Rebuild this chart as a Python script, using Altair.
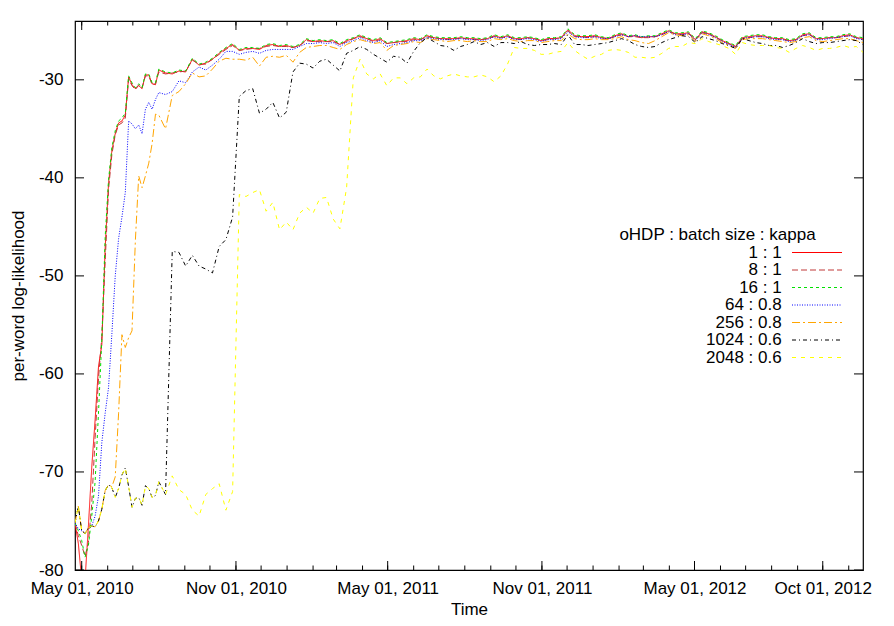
import altair as alt
import pandas as pd

START = "2010-04-23"

# day offsets from START
day = [0, 4, 8, 12, 16, 20, 24, 28, 32, 36, 40, 44, 48, 52, 56, 60, 64, 68, 72, 76, 80, 84, 88, 92, 96, 100,
       108, 116, 124, 132, 140, 148, 156, 164, 172, 180, 188, 196, 204,
       212, 220, 228, 236, 244, 252, 260, 268, 276, 284, 292, 300, 308,
       316, 324, 332, 340, 348, 356, 364, 372, 380, 388, 396, 404, 412,
       420, 428, 436, 444, 452, 460, 468, 476, 484, 492, 500, 508, 516,
       524, 532, 540, 548, 556, 564, 572, 580, 588, 596, 604, 612, 620,
       628, 636, 644, 652, 660, 668, 676, 684, 692, 700, 708, 716, 724,
       732, 740, 748, 756, 764, 772, 780, 788, 796, 804, 812, 820, 828,
       836, 844, 852, 860, 868, 876, 884, 892, 900, 908, 916, 924, 932, 940]

series_names = ["1 : 1", "8 : 1", "16 : 1", "64 : 0.8", "256 : 0.8", "1024 : 0.6", "2048 : 0.6"]

v_1 = [-75.2, -77.3, -81.0, -81.0, -75.5, -69.5, -64.7, -59.3, -57.0, -47.1, -40.6, -37.2, -35.5, -34.4, -34.2, -33.6, -29.7, -30.5, -30.9, -30.6, -30.9, -29.5, -29.5, -30.4, -30.5, -29.0,
       -29.3, -29.4, -29.1, -29.2, -27.9, -28.5, -28.3, -27.9, -27.3, -26.8, -26.4, -27.0, -26.8,
       -26.8, -26.9, -26.5, -26.4, -26.6, -26.5, -26.7, -26.5, -25.9, -26.1, -26.0, -26.1, -26.0,
       -26.4, -26.0, -25.8, -25.5, -25.8, -26.0, -25.8, -26.3, -26.2, -26.1, -26.0, -25.8, -25.9,
       -25.5, -25.7, -25.8, -25.8, -25.8, -25.7, -25.8, -25.8, -25.9, -25.8, -25.5, -25.7, -25.5,
       -25.8, -25.8, -25.7, -25.8, -26.0, -25.8, -25.8, -25.7, -24.9, -25.5, -25.6, -25.6, -25.5,
       -25.7, -25.8, -25.5, -25.3, -25.6, -25.5, -25.7, -25.6, -25.6, -25.3, -25.0, -25.3, -25.3,
       -25.2, -25.9, -25.1, -25.3, -25.6, -26.0, -26.3, -26.6, -25.7, -25.6, -25.5, -25.5, -25.7,
       -25.8, -25.8, -26.0, -25.9, -25.4, -25.3, -25.8, -25.8, -25.7, -25.7, -25.5, -25.4, -25.7, -25.8]

v_8 = [-75.2, -76.5, -77.5, -78.6, -77.2, -73.2, -66.5, -60.5, -56.2, -48.5, -41.2, -37.6, -35.6, -34.6, -34.4, -33.9, -29.9, -30.6, -31.0, -30.5, -30.8, -29.6, -29.6, -30.5, -30.4, -29.2,
       -29.4, -29.3, -29.2, -29.1, -28.0, -28.4, -28.4, -27.9, -27.4, -26.9, -26.5, -27.0, -26.9,
       -26.8, -26.8, -26.6, -26.5, -26.6, -26.6, -26.7, -26.5, -26.0, -26.1, -26.1, -26.1, -26.1,
       -26.4, -26.1, -25.8, -25.6, -25.8, -26.1, -25.9, -26.3, -26.2, -26.1, -26.1, -25.9, -25.9,
       -25.6, -25.7, -25.8, -25.9, -25.8, -25.8, -25.8, -25.9, -25.9, -25.8, -25.6, -25.7, -25.6,
       -25.8, -25.9, -25.7, -25.8, -26.0, -25.9, -25.8, -25.7, -25.0, -25.6, -25.6, -25.7, -25.6,
       -25.7, -25.8, -25.6, -25.4, -25.6, -25.6, -25.7, -25.7, -25.6, -25.4, -25.1, -25.3, -25.4,
       -25.3, -25.9, -25.2, -25.3, -25.7, -26.0, -26.3, -26.6, -25.8, -25.7, -25.6, -25.6, -25.7,
       -25.8, -25.9, -26.0, -25.9, -25.5, -25.4, -25.8, -25.8, -25.7, -25.7, -25.6, -25.5, -25.7, -25.9]

v_16 = [-75.2, -76.0, -77.0, -78.7, -77.5, -74.5, -71.0, -64.0, -56.5, -46.0, -40.2, -36.9, -35.2, -34.2, -33.9, -33.4, -29.6, -30.3, -30.8, -30.4, -30.8, -29.4, -29.4, -30.3, -30.3, -28.9,
        -29.2, -29.3, -29.0, -29.1, -27.8, -28.4, -28.2, -27.8, -27.2, -26.7, -26.3, -26.9, -26.7,
        -26.7, -26.8, -26.4, -26.3, -26.5, -26.4, -26.6, -26.4, -25.8, -26.0, -25.9, -26.0, -25.9,
        -26.3, -25.9, -25.7, -25.4, -25.7, -25.9, -25.7, -26.2, -26.1, -26.0, -25.9, -25.7, -25.8,
        -25.4, -25.6, -25.7, -25.7, -25.7, -25.6, -25.7, -25.7, -25.8, -25.7, -25.4, -25.6, -25.4,
        -25.7, -25.7, -25.6, -25.7, -25.9, -25.7, -25.7, -25.6, -24.8, -25.4, -25.5, -25.5, -25.4,
        -25.6, -25.7, -25.4, -25.2, -25.5, -25.4, -25.6, -25.5, -25.5, -25.2, -24.9, -25.2, -25.2,
        -25.1, -25.8, -25.0, -25.2, -25.5, -25.9, -26.2, -26.5, -25.6, -25.5, -25.4, -25.4, -25.6,
        -25.7, -25.7, -25.9, -25.8, -25.3, -25.2, -25.7, -25.7, -25.6, -25.6, -25.4, -25.3, -25.6, -25.7]

v_64 = [-75.2, -75.8, -76.0, -76.2, -75.8, -75.5, -74.5, -72.5, -67.0, -64.0, -61.4, -55.9, -50.0, -46.2, -44.0, -41.5, -34.2, -34.5, -35.0, -34.6, -35.5, -33.0, -32.3, -33.0, -32.0, -31.3,
        -31.5, -31.2, -30.1, -30.3, -29.2, -28.7, -29.0, -28.5, -27.9, -27.1, -27.1, -27.4, -27.2,
        -27.1, -27.3, -27.0, -26.9, -26.9, -26.9, -26.9, -26.6, -26.3, -26.3, -26.2, -26.3, -26.2,
        -26.6, -26.2, -26.0, -25.7, -26.0, -26.2, -26.0, -26.6, -26.4, -26.3, -26.2, -26.0, -26.0,
        -25.7, -25.8, -25.9, -25.9, -25.9, -25.8, -25.9, -25.9, -26.0, -25.9, -25.6, -25.8, -25.6,
        -25.9, -25.9, -25.8, -25.9, -26.1, -25.9, -25.9, -25.8, -25.1, -25.6, -25.7, -25.7, -25.6,
        -25.8, -25.8, -25.6, -25.4, -25.6, -25.5, -25.6, -25.6, -25.6, -25.4, -25.1, -25.4, -25.4,
        -25.3, -26.0, -25.2, -25.4, -25.7, -26.1, -26.4, -26.7, -25.8, -25.7, -25.6, -25.6, -25.8,
        -25.9, -25.9, -26.1, -26.0, -25.5, -25.4, -25.9, -25.9, -25.8, -25.7, -25.6, -25.5, -25.8, -25.9]

v_256 = [-75.2, -73.5, -76.0, -76.3, -75.7, -75.5, -75.6, -75.0, -73.8, -71.9, -71.3, -71.5, -70.5, -64.0, -56.0, -57.3, -56.3, -55.6, -46.4, -39.8, -41.0, -39.8, -38.5, -36.5, -33.5, -33.6,
         -35.0, -31.6, -31.2, -30.4, -29.3, -29.7, -29.6, -28.9, -28.1, -27.8, -27.9, -27.9, -28.0,
         -27.7, -28.6, -27.7, -27.6, -27.7, -27.5, -28.2, -27.2, -26.7, -26.6, -26.5, -26.5, -26.7,
         -26.9, -26.4, -26.1, -25.9, -26.1, -26.3, -26.2, -27.0, -26.5, -26.4, -26.3, -26.1, -26.2,
         -25.8, -25.9, -26.0, -26.1, -26.0, -26.0, -26.1, -26.0, -26.1, -26.1, -25.8, -25.9, -25.8,
         -26.0, -26.1, -26.0, -26.0, -26.2, -26.1, -26.0, -26.0, -25.3, -25.8, -25.9, -25.9, -25.8,
         -25.9, -25.9, -25.8, -25.6, -25.9, -26.0, -26.2, -26.3, -26.0, -25.6, -25.2, -25.4, -25.5,
         -25.4, -26.1, -25.3, -25.5, -25.8, -26.2, -26.5, -26.8, -25.9, -25.8, -25.8, -25.8, -25.9,
         -26.0, -26.1, -26.2, -26.1, -25.7, -25.6, -26.0, -26.1, -26.0, -25.9, -25.8, -25.8, -26.0, -26.2]

v_1024 = [-75.2, -73.5, -76.0, -76.3, -75.7, -75.5, -75.6, -75.0, -73.8, -71.9, -71.3, -71.6, -72.6, -71.7, -70.3, -69.6, -71.5, -73.6, -72.7, -72.6, -73.4, -71.4, -71.7, -72.6, -72.4, -71.0,
          -72.3, -47.5, -47.6, -49.0, -47.9, -49.0, -49.3, -49.7, -47.0, -46.3, -44.0, -31.7, -31.1,
          -30.9, -33.4, -33.0, -32.3, -33.9, -33.3, -29.2, -28.3, -28.4, -28.8, -28.1, -27.9, -28.5,
          -29.1, -27.3, -27.0, -26.6, -26.9, -27.4, -27.8, -28.2, -27.6, -27.7, -28.3, -27.1, -26.2,
          -25.7, -26.1, -26.5, -26.6, -27.0, -26.6, -26.4, -26.1, -26.4, -26.2, -26.6, -26.2, -26.2,
          -26.3, -26.1, -26.4, -26.5, -26.4, -26.4, -26.3, -26.4, -25.4, -26.4, -26.4, -26.5, -26.4,
          -26.3, -26.2, -26.0, -25.8, -26.0, -26.4, -26.6, -26.7, -26.6, -26.2, -25.9, -25.7, -25.5,
          -25.6, -26.2, -25.6, -25.8, -26.0, -26.3, -26.5, -26.8, -25.8, -26.0, -26.2, -26.3, -26.5,
          -26.5, -26.7, -26.5, -26.2, -25.8, -26.1, -26.3, -26.2, -26.2, -26.1, -26.0, -25.9, -26.0, -26.4]

v_2048 = [-75.2, -73.5, -76.0, -76.3, -75.7, -75.5, -75.6, -75.0, -73.8, -71.9, -71.3, -71.6, -72.6, -71.7, -70.3, -69.6, -71.5, -73.6, -72.7, -72.6, -73.4, -71.4, -71.7, -72.6, -72.4, -71.0,
          -72.3, -70.4, -71.8, -72.3, -73.9, -74.5, -72.3, -71.7, -71.2, -73.9, -72.0, -41.7, -41.9,
          -41.5, -41.2, -43.4, -42.5, -45.3, -44.5, -45.3, -43.6, -43.0, -43.6, -42.1, -42.0, -44.2,
          -45.2, -41.0, -29.8, -27.9, -29.4, -29.9, -29.4, -30.6, -29.8, -29.8, -30.4, -29.8, -29.7,
          -28.9, -29.6, -29.9, -29.6, -29.4, -29.6, -29.7, -29.7, -29.5, -29.7, -30.2, -29.6, -28.4,
          -26.7, -26.8, -26.8, -27.0, -27.4, -27.4, -27.2, -27.1, -26.2, -27.0, -27.5, -27.9, -27.6,
          -27.4, -27.0, -26.9, -27.0, -27.2, -27.7, -27.7, -27.8, -27.7, -27.3, -26.8, -26.6, -26.6,
          -26.2, -26.3, -25.8, -26.1, -26.3, -26.5, -26.8, -27.4, -26.2, -26.4, -26.5, -26.5, -26.5,
          -26.7, -26.8, -27.2, -26.8, -26.5, -26.7, -27.0, -26.8, -26.8, -26.7, -26.5, -26.7, -26.6, -27.2]

series_values = [v_1, v_8, v_16, v_64, v_256, v_1024, v_2048]
series_colors = ["#ff0000", "#c03838", "#00e000", "#0000ff", "#ffa500", "#000000", "#ffff00"]
series_dashes = [[1, 0], [6, 3], [3, 3], [1, 1.5], [8, 3, 2, 3], [4, 3, 1, 3], [4, 5]]

major_ticks = ["2010-05-01", "2010-11-01", "2011-05-01", "2011-11-01", "2012-05-01", "2012-10-01"]
minor_ticks = ["2010-05-01", "2010-06-01", "2010-07-01", "2010-08-01", "2010-09-01", "2010-10-01",
               "2010-11-01", "2010-12-01", "2011-01-01", "2011-02-01", "2011-03-01", "2011-04-01",
               "2011-05-01", "2011-06-01", "2011-07-01", "2011-08-01", "2011-09-01", "2011-10-01",
               "2011-11-01", "2011-12-01", "2012-01-01", "2012-02-01", "2012-03-01", "2012-04-01",
               "2012-05-01", "2012-06-01", "2012-07-01", "2012-08-01", "2012-09-01", "2012-10-01",
               "2012-11-01"]
y_ticks = [-80, -70, -60, -50, -40, -30]

legend_title = "oHDP : batch size : kappa"

for vals in series_values:
    assert len(vals) == len(day), len(vals)

FONT = "Liberation Sans"
FS = 17
W, H = 788, 549

start = pd.Timestamp(START)
rows = []
for name, vals in zip(series_names, series_values):
    for d, v in zip(day, vals):
        rows.append({"date": start + pd.Timedelta(days=d), "value": v, "series": name})
df = pd.DataFrame(rows)

x_scale = alt.Scale(domain=[alt.DateTime(year=2010, month=4, date=23),
                            alt.DateTime(year=2012, month=11, date=18)])
y_scale = alt.Scale(domain=[-80, -24], nice=False, zero=False)

x_axis = alt.Axis(
    values=[alt.DateTime(year=int(s[:4]), month=int(s[5:7]), date=int(s[8:])) for s in major_ticks],
    format="%b %d, %Y", ticks=False, tickSize=0, domain=False, grid=False,
    labelFont=FONT, labelFontSize=FS, labelColor="black", labelPadding=10,
    labelOverlap=False, labelFlush=False,
    title="Time", titleFont=FONT, titleFontSize=FS, titleFontWeight="normal", titleColor="black",
    titleX=W / 2, titleY=39, titleAlign="center", titleBaseline="middle")
y_axis = alt.Axis(
    values=y_ticks, labelExpr="'' + datum.value", ticks=False, tickSize=0, domain=False, grid=False,
    labelFont=FONT, labelFontSize=FS, labelColor="black", labelPadding=12,
    title="per-word log-likelihood", titleFont=FONT, titleFontSize=FS, titleFontWeight="normal",
    titleColor="black", titleX=-57, titleY=H / 2, titleAlign="center", titleBaseline="middle")


def X(field):
    return alt.X(field, scale=x_scale, axis=x_axis)


def Y(field):
    return alt.Y(field, scale=y_scale, axis=y_axis)


layers = []
for name, col, dash in zip(series_names, series_colors, series_dashes):
    layers.append(
        alt.Chart(df[df["series"] == name]).mark_line(
            clip=True, color=col, strokeWidth=1, strokeDash=dash
        ).encode(x=X("date:T"), y=Y("value:Q"), order=alt.Order("date:T"))
    )

maj = pd.DataFrame({"date": pd.to_datetime(major_ticks)})
mnr = pd.DataFrame({"date": pd.to_datetime(minor_ticks)})
ytk = pd.DataFrame({"value": y_ticks})


def xticks(data, length):
    out = []
    for y0, y1 in [(H, H - length), (0, length)]:
        out.append(alt.Chart(data).mark_rule(color="black", strokeWidth=1).encode(
            x=X("date:T"), y=alt.value(y0), y2=alt.value(y1)))
    return out


layers += xticks(maj, 9) + xticks(mnr, 4.5)
for x0, x1 in [(0, 9), (W, W - 9)]:
    layers.append(alt.Chart(ytk).mark_rule(color="black", strokeWidth=1).encode(
        y=Y("value:Q"), x=alt.value(x0), x2=alt.value(x1)))

# key (legend) drawn gnuplot-style
layers.append(alt.Chart(pd.DataFrame({"t": [legend_title]})).mark_text(
    font=FONT, fontSize=FS, color="black", align="center", baseline="middle"
).encode(text="t:N", x=alt.value(642.5), y=alt.value(213.5)))
for i, (name, col, dash) in enumerate(zip(series_names, series_colors, series_dashes)):
    yy = 231.5 + 17.5 * i
    layers.append(alt.Chart(pd.DataFrame({"t": [name]})).mark_text(
        font=FONT, fontSize=FS, color="black", align="right", baseline="middle"
    ).encode(text="t:N", x=alt.value(706.7), y=alt.value(yy)))
    layers.append(alt.Chart(pd.DataFrame({"t": [name]})).mark_rule(
        color=col, strokeWidth=1, strokeDash=dash
    ).encode(x=alt.value(717), x2=alt.value(767), y=alt.value(yy)))

chart = alt.layer(*layers).properties(
    width=W, height=H,
    autosize=alt.AutoSizeParams(type="none"),
    padding={"left": 67, "top": 13, "right": 20, "bottom": 48},
    background="white",
).configure_view(stroke="black", strokeWidth=1.2)

chart.save("out.html", embed_options={"renderer": "svg", "actions": False})
